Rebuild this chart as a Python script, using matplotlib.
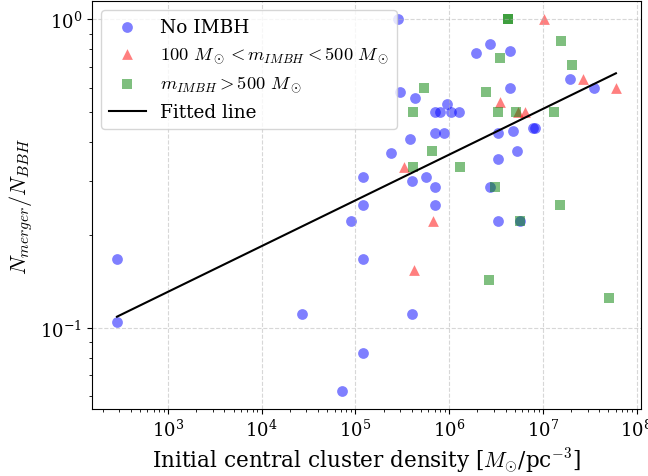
import matplotlib
matplotlib.use('Agg')
import matplotlib.pyplot as plt
import numpy as np

plt.rcParams['font.family'] = 'DejaVu Serif'
plt.rcParams['mathtext.fontset'] = 'cm'

# No IMBH
no_imbh_x = [285, 285, 2.71e4, 7.26e4, 9.06e4, 1.19e5, 1.19e5, 1.19e5, 1.19e5,
             2.37e5, 2.88e5, 3.0e5, 4.0e5, 4.0e5, 3.87e5, 4.28e5, 5.6e5,
             7.0e5, 7.0e5, 7.0e5, 8.9e5, 7.0e5, 7.9e5, 9.4e5, 1.06e6, 1.26e6,
             1.92e6, 2.71e6, 4.44e6, 4.44e6, 1.94e7, 3.5e7, 3.3e6, 4.78e6,
             7.8e6, 8.2e6, 3.3e6, 5.27e6, 2.71e6, 3.3e6, 5.67e6]
no_imbh_y = [0.167, 0.104, 0.111, 0.0625, 0.222, 0.083, 0.167, 0.25, 0.308,
             0.368, 1.0, 0.58, 0.111, 0.30, 0.41, 0.555, 0.308,
             0.286, 0.25, 0.428, 0.428, 0.5, 0.5, 0.53, 0.5, 0.5,
             0.78, 0.83, 0.79, 0.6, 0.64, 0.6, 0.428, 0.434,
             0.444, 0.444, 0.352, 0.374, 0.286, 0.222, 0.222]

# 100 < m_IMBH < 500
mid_x = [1.02e7, 2.68e7, 6.03e7, 3.47e6, 5.5e6, 6.4e6, 3.34e5, 6.67e5, 4.17e5]
mid_y = [1.0, 0.64, 0.6, 0.54, 0.5, 0.5, 0.333, 0.222, 0.154]

# m_IMBH > 500
big_x = [5.33e5, 4.07e5, 6.5e5, 4.07e5, 1.3e6, 1.52e7, 5.67e6, 2.64e6, 5.08e7,
         4.23e6, 4.23e6, 1.56e7, 3.47e6, 2.04e7, 2.5e6, 3.3e6, 5.13e6, 1.31e7,
         3.07e6]
big_y = [0.6, 0.5, 0.375, 0.333, 0.333, 0.25, 0.222, 0.143, 0.125,
         1.0, 1.0, 0.85, 0.75, 0.71, 0.58, 0.5, 0.5, 0.5,
         0.286]

# fitted power law, end points
fit_x = [285, 6.03e7]
fit_y = [0.1086, 0.669]

fig, ax = plt.subplots(figsize=(6.48, 4.77), dpi=100)

ax.scatter(no_imbh_x, no_imbh_y, s=60, color='blue', alpha=0.5, marker='o', linewidths=0, label='No IMBH')
ax.scatter(mid_x, mid_y, s=60, color='red', alpha=0.5, marker='^', linewidths=0,
           label=r'$100\ M_\odot < m_{IMBH} < 500\ M_\odot$')
ax.scatter(big_x, big_y, s=60, color='green', alpha=0.5, marker='s', linewidths=0,
           label=r'$m_{IMBH} > 500\ M_\odot$')
ax.plot(fit_x, fit_y, color='black', lw=1.5, label='Fitted line')

ax.set_xscale('log')
ax.set_yscale('log')
ax.grid(True, linestyle='--', alpha=0.5)
ax.tick_params(labelsize=13)
ax.set_xlabel(r'Initial central cluster density [$M_{\odot}$/pc$^{-3}$]', fontsize=15.5)
ax.set_ylabel(r'$N_{merger}/N_{BBH}$', fontsize=16)
ax.legend(loc='upper left', fontsize=13.3)

fig.subplots_adjust(left=0.142, right=0.989, top=0.996, bottom=0.14)
fig.savefig('out.png')
